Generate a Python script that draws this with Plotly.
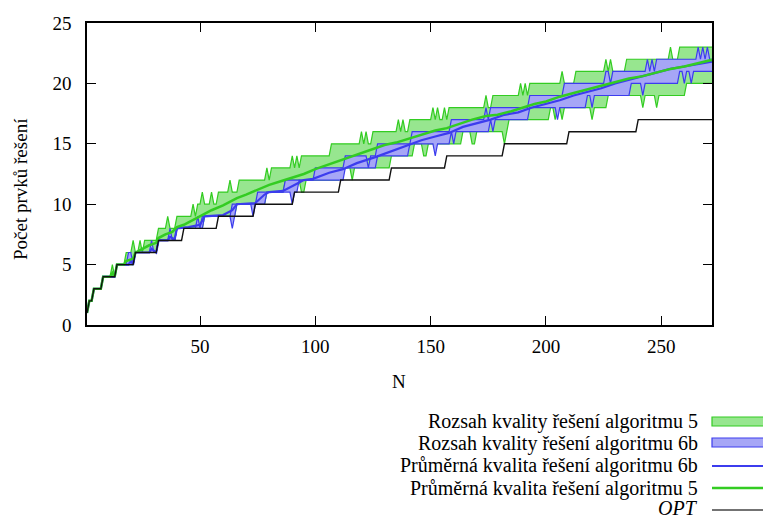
import plotly.graph_objects as go

N_MAX = 272
n = list(range(1, N_MAX + 1))

# Optimum: level values and the first N at which each level holds
opt_levels = [1, 2, 3, 4, 5, 6, 7, 8, 9, 10, 11, 12, 13, 14, 15, 16, 17]
opt_starts = [1, 2, 4, 8, 14, 22, 32, 43, 58, 74, 91, 111, 133, 157, 182, 210, 240]

# Algorithm 5: range of solution quality (upper and lower edge)
max5_levels = [1, 2, 3, 4, 5, 6, 7, 8, 9, 10, 11, 12, 13, 14, 15, 16, 17, 18, 19, 20, 21, 22, 23]
max5_starts = [1, 2, 4, 8, 14, 18, 26, 32, 40, 49, 58, 67, 81, 94, 107, 125, 141, 158, 177, 193, 213, 235, 258]
max5_spikes = {12: 5, 21: 7, 24: 7, 36: 9, 47: 10, 51: 11, 55: 11, 63: 12, 79: 13, 90: 14, 92: 14,
               120: 16, 122: 16, 136: 17, 138: 17, 151: 18, 153: 18, 156: 18, 174: 19,
               189: 20, 191: 20, 207: 21, 226: 22, 228: 22, 254: 23}
min5_levels = [1, 2, 3, 4, 5, 6, 7, 8, 9, 10, 11, 12, 13, 14, 15, 16, 17, 18, 19, 20]
min5_starts = [1, 2, 4, 8, 14, 22, 32, 40, 52, 66, 79, 87, 111, 133, 143, 164, 184, 202, 227, 261]
min5_spikes = {94: 11, 95: 11, 116: 12, 147: 14, 148: 14, 168: 15, 169: 15, 182: 15,
               204: 17, 207: 17, 220: 17, 242: 18, 248: 18}

# Algorithm 6b: range of solution quality (upper and lower edge)
max6_levels = [1, 2, 3, 4, 5, 6, 7, 8, 9, 10, 11, 12, 13, 14, 15, 16, 17, 18, 19, 20, 21, 22]
max6_starts = [1, 2, 4, 8, 14, 22, 32, 40, 51, 64, 75, 87, 100, 113, 127, 142, 159, 176, 193, 208, 229, 248]
max6_spikes = {19: 6, 20: 6, 29: 7, 37: 8, 49: 9, 123: 13, 174: 18, 226: 21, 227: 21,
               244: 22, 246: 22, 266: 23, 268: 23, 270: 23}
min6_levels = [1, 2, 3, 4, 5, 6, 7, 8, 9, 10, 11, 12, 13, 14, 15, 16, 17, 18, 19, 20, 21]
min6_starts = [1, 2, 4, 8, 14, 22, 32, 40, 52, 66, 79, 93, 113, 127, 141, 159, 176, 193, 218, 237, 258]
min6_spikes = {64: 8, 73: 9, 90: 10, 152: 14, 160: 15, 177: 16, 205: 17, 220: 18,
               242: 19, 260: 20, 263: 20}

# Average solution quality (sampled N, value)
avg5_n = [1, 2, 3, 4, 7, 8, 11, 12, 13, 14, 17, 18, 21, 22, 25, 28, 31, 32, 35, 38, 40, 43,
          45, 50, 55, 60, 66, 70, 75, 80, 85, 90, 95, 100, 106, 112, 118, 124, 130, 135, 140,
          146, 152, 157, 163, 168, 174, 179, 185, 190, 195, 200, 206, 212, 218, 224, 230, 236,
          242, 248, 254, 260, 266, 272]
avg5_v = [1, 2, 2, 3, 3, 4, 4, 4.3, 4, 5, 5, 5.3, 5.5, 6, 6.3, 6.6, 6.8, 7.2, 7.5, 7.7, 8.1, 8.3,
          8.5, 9.0, 9.5, 9.9, 10.5, 10.8, 11.2, 11.6, 11.9, 12.2, 12.5, 12.9, 13.3, 13.7, 14.1, 14.5, 14.9, 15.1, 15.4,
          15.8, 16.1, 16.3, 16.7, 17.0, 17.3, 17.4, 17.7, 18.0, 18.3, 18.5, 18.9, 19.2, 19.5, 19.8, 20.1, 20.4,
          20.6, 20.9, 21.2, 21.4, 21.7, 21.95]
avg6_n = [1, 2, 3, 4, 7, 8, 13, 14, 19, 20, 21, 22, 28, 29, 31, 32, 36, 37, 39, 40, 45, 50,
          52, 60, 64, 66, 74, 78, 80, 86, 92, 95, 99, 106, 112, 118, 126, 133, 140, 146, 152, 158,
          164, 170, 176, 182, 188, 194, 200, 206, 212, 218, 224, 230, 236, 242, 248, 254, 260, 266, 272]
avg6_v = [1, 2, 2, 3, 3, 4, 4, 5, 5, 5.3, 5, 6, 6, 6.3, 6, 7, 7, 7.3, 7.1, 8, 8.1, 8.3,
          9, 9.1, 9.5, 10, 10.1, 10.8, 11, 11.1, 11.7, 12, 12.1, 12.6, 12.9, 13.4, 13.9, 14.4, 14.9, 15.3, 15.6, 15.9,
          16.4, 16.7, 17.0, 17.4, 17.6, 18.0, 18.3, 18.6, 19.0, 19.3, 19.6, 20.0, 20.3, 20.6, 20.9, 21.2, 21.4, 21.6, 21.8]

x_ticks = [50, 100, 150, 200, 250]
y_ticks = [0, 5, 10, 15, 20, 25]

legend_labels = [
    "Rozsah kvality řešení algoritmu 5",
    "Rozsah kvality řešení algoritmu 6b",
    "Průměrná kvalita řešení algoritmu 6b",
    "Průměrná kvalita řešení algoritmu 5",
    "<i>OPT</i>",
]


def expand(levels, starts, spikes=None):
    vals = []
    for i, (lv, st) in enumerate(zip(levels, starts)):
        end = starts[i + 1] if i + 1 < len(starts) else N_MAX + 1
        vals += [lv] * (end - st)
    for k, v in (spikes or {}).items():
        vals[k - 1] = v
    return vals


opt = expand(opt_levels, opt_starts)
max5 = expand(max5_levels, max5_starts, max5_spikes)
min5 = expand(min5_levels, min5_starts, min5_spikes)
max6 = expand(max6_levels, max6_starts, max6_spikes)
min6 = expand(min6_levels, min6_starts, min6_spikes)

GREEN_FILL = "#97e68f"
GREEN_LINE = "#33cc22"
BLUE_FILL = "#a6a6f6"
BLUE_LINE = "#3c3cee"
BLACK = "#111111"

fig = go.Figure()
# range of algorithm 5
fig.add_trace(go.Scatter(x=n, y=min5, mode="lines", line=dict(color=GREEN_LINE, width=1.2)))
fig.add_trace(go.Scatter(x=n, y=max5, mode="lines", fill="tonexty", fillcolor=GREEN_FILL,
                         line=dict(color=GREEN_LINE, width=1.2)))
# range of algorithm 6b
fig.add_trace(go.Scatter(x=n, y=min6, mode="lines", line=dict(color=BLUE_LINE, width=1.2)))
fig.add_trace(go.Scatter(x=n, y=max6, mode="lines", fill="tonexty", fillcolor=BLUE_FILL,
                         line=dict(color=BLUE_LINE, width=1.2)))
# averages
fig.add_trace(go.Scatter(x=avg6_n, y=avg6_v, mode="lines", line=dict(color=BLUE_LINE, width=2.2)))
fig.add_trace(go.Scatter(x=avg5_n, y=avg5_v, mode="lines", line=dict(color=GREEN_LINE, width=2.5)))
# optimum
fig.add_trace(go.Scatter(x=n, y=opt, mode="lines", line=dict(color=BLACK, width=1.4)))

L, R, T, B = 87, 51, 23, 193
W, H = 763, 518
PW, PH = W - L - R, H - T - B


def px(xp):
    return (xp - L) / PW


def py(yp):
    return (H - B - yp) / PH


FONT = "serif"
TEXT_SIZE = 20
annotations = [
    dict(text="N", x=px(399), y=py(381), xref="paper", yref="paper", showarrow=False,
         xanchor="center", yanchor="middle",
         font=dict(size=19, family=FONT, color="black")),
    dict(text="Počet prvků řešení", x=px(21), y=py(189), xref="paper", yref="paper",
         showarrow=False, textangle=-90, xanchor="center", yanchor="middle",
         font=dict(size=19, family=FONT, color="black")),
]
shapes = []
leg_y = [421, 443, 465.5, 488, 508]
for lab, yy in zip(legend_labels, leg_y):
    annotations.append(dict(text=lab, x=px(700), y=py(yy), xref="paper", yref="paper",
                            xanchor="right", yanchor="middle", showarrow=False,
                            font=dict(size=TEXT_SIZE, family=FONT, color="black")))
# legend swatches
shapes.append(dict(type="rect", xref="paper", yref="paper", x0=px(712), x1=px(766),
                   y0=py(426), y1=py(417), fillcolor=GREEN_FILL, line=dict(color=GREEN_LINE, width=1.2)))
shapes.append(dict(type="rect", xref="paper", yref="paper", x0=px(712), x1=px(766),
                   y0=py(447), y1=py(438), fillcolor=BLUE_FILL, line=dict(color=BLUE_LINE, width=1.2)))
shapes.append(dict(type="line", xref="paper", yref="paper", x0=px(712), x1=px(766),
                   y0=py(466), y1=py(466), line=dict(color=BLUE_LINE, width=2.2)))
shapes.append(dict(type="line", xref="paper", yref="paper", x0=px(712), x1=px(766),
                   y0=py(488), y1=py(488), line=dict(color=GREEN_LINE, width=2.5)))
shapes.append(dict(type="line", xref="paper", yref="paper", x0=px(712), x1=px(766),
                   y0=py(510), y1=py(510), line=dict(color="#444444", width=1.4)))

axis_common = dict(showgrid=False, zeroline=False, showline=True, linecolor="black", linewidth=1.5,
                   mirror="allticks", ticks="inside", ticklen=9, tickcolor="black", tickwidth=1.2,
                   tickfont=dict(size=19, family=FONT, color="black"))
fig.update_layout(
    width=W, height=H, margin=dict(l=L, r=R, t=T, b=B),
    paper_bgcolor="white", plot_bgcolor="white", showlegend=False,
    xaxis=dict(range=[1, N_MAX], tickvals=x_ticks, ticklabelstandoff=3, **axis_common),
    yaxis=dict(range=[0, 25], tickvals=y_ticks, ticklabelstandoff=10, **axis_common),
    annotations=annotations, shapes=shapes,
)
fig.write_html("out.html")
